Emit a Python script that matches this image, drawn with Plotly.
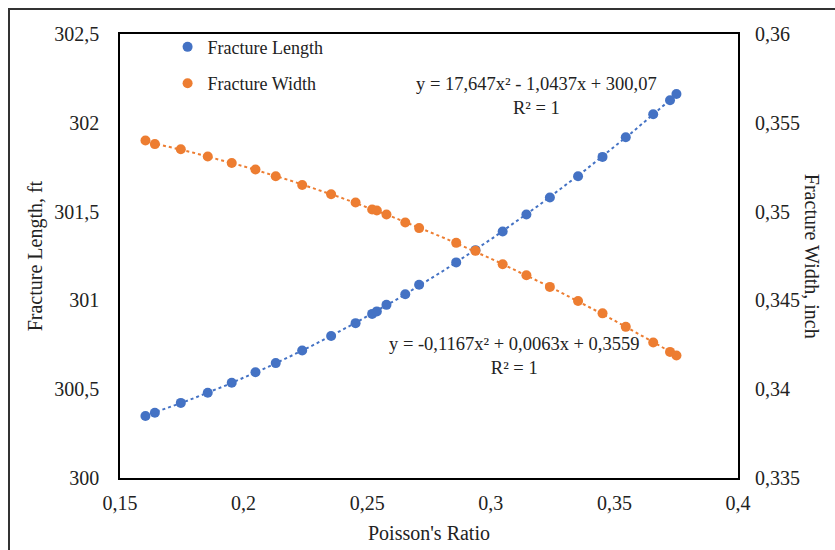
import numpy as np
import plotly.graph_objects as go

# Data
poisson_ratio = [0.1603, 0.1641, 0.1746, 0.1855, 0.1952, 0.2048, 0.2130, 0.2237,
                 0.2354, 0.2453, 0.2520, 0.2539, 0.2578, 0.2654, 0.2710, 0.2860,
                 0.2938, 0.3048, 0.3144, 0.3239, 0.3353, 0.3452, 0.3546, 0.3657,
                 0.3725, 0.3751]
fracture_length = [300.349, 300.367, 300.423, 300.480, 300.536, 300.595, 300.647, 300.718,
                   300.800, 300.872, 300.924, 300.938, 300.975, 301.035, 301.088, 301.214,
                   301.283, 301.388, 301.484, 301.579, 301.699, 301.808, 301.919, 302.048,
                   302.127, 302.162]
fracture_width = [0.35400, 0.35380, 0.35351, 0.35310, 0.35274, 0.35237, 0.35199, 0.35150,
                  0.35098, 0.35051, 0.35012, 0.35006, 0.34984, 0.34939, 0.34907, 0.34824,
                  0.34779, 0.34704, 0.34642, 0.34576, 0.34497, 0.34427, 0.34351, 0.34263,
                  0.34210, 0.34190]

x_ticks = [0.15, 0.2, 0.25, 0.3, 0.35, 0.4]
y_left_ticks = [300, 300.5, 301, 301.5, 302, 302.5]
y_right_ticks = [0.335, 0.34, 0.345, 0.35, 0.355, 0.36]

eq_length = "y = 17,647x² - 1,0437x + 300,07<br>R² = 1"
eq_width = "y = -0,1167x² + 0,0063x + 0,3559<br>R² = 1"

BLUE = "#4472C4"
ORANGE = "#ED7D31"
FONT = "Liberation Serif, Times New Roman, serif"

# Polynomial trendlines (order 2) fitted to the data
xs = np.linspace(min(poisson_ratio), max(poisson_ratio), 200)
pl = np.polyfit(poisson_ratio, fracture_length, 2)
pw = np.polyfit(poisson_ratio, fracture_width, 2)

fig = go.Figure()
fig.add_trace(go.Scatter(x=xs, y=np.polyval(pl, xs), mode="lines",
                         line=dict(color=BLUE, width=2, dash="dot"),
                         showlegend=False, hoverinfo="skip"))
fig.add_trace(go.Scatter(x=xs, y=np.polyval(pw, xs), mode="lines", yaxis="y2",
                         line=dict(color=ORANGE, width=2, dash="dot"),
                         showlegend=False, hoverinfo="skip"))
fig.add_trace(go.Scatter(x=poisson_ratio, y=fracture_length, mode="markers",
                         name="Fracture Length", legendgroup="a",
                         marker=dict(color=BLUE, size=10)))
fig.add_trace(go.Scatter(x=poisson_ratio, y=fracture_width, mode="markers",
                         name="Fracture Width", legendgroup="b", yaxis="y2",
                         marker=dict(color=ORANGE, size=10)))

axis_common = dict(showgrid=False, zeroline=False, ticks="outside", ticklen=0,
                   automargin=False,
                   tickfont=dict(family=FONT, size=20, color="#222"))

fig.update_layout(
    width=835, height=550,
    margin=dict(l=120, r=97, t=34, b=72, autoexpand=False),
    paper_bgcolor="white", plot_bgcolor="white",
    separators=", ",
    font=dict(family=FONT, color="#222"),
    xaxis=dict(range=[0.15, 0.4], tickvals=x_ticks,
               showline=True, linecolor="black", linewidth=1.5, mirror=True,
               ticklabelstandoff=6, **axis_common),
    yaxis=dict(range=[300, 302.5], tickvals=y_left_ticks,
               showline=True, linecolor="black", linewidth=1.5, mirror=True,
               ticklabelstandoff=15, **axis_common),
    yaxis2=dict(range=[0.335, 0.36], tickvals=y_right_ticks, overlaying="y", side="right",
                showline=False, ticklabelstandoff=12, **axis_common),
    legend=dict(x=0.077, y=1.012, xanchor="left", yanchor="top",
                bgcolor="rgba(0,0,0,0)", tracegroupgap=10,
                font=dict(family=FONT, size=18, color="#222"),
                itemwidth=30),
    showlegend=True,
)

ann_font = dict(family=FONT, size=18.5, color="#222")
fig.add_annotation(x=0.3183, y=302.15, xref="x", yref="y", text=eq_length,
                   showarrow=False, font=ann_font, align="center")
fig.add_annotation(x=0.3094, y=300.688, xref="x", yref="y", text=eq_width,
                   showarrow=False, font=ann_font, align="center")

# Axis titles
fig.add_annotation(x=0.5, y=-0.123, xref="paper", yref="paper", text="Poisson's Ratio",
                   showarrow=False, font=dict(family=FONT, size=20, color="#222"),
                   xanchor="center", yanchor="middle")
fig.add_annotation(x=-0.137, y=0.5, xref="paper", yref="paper", text="Fracture Length, ft",
                   showarrow=False, textangle=-90, font=dict(family=FONT, size=20, color="#222"),
                   xanchor="center", yanchor="middle")
fig.add_annotation(x=1.12, y=0.5, xref="paper", yref="paper", text="Fracture Width, inch",
                   showarrow=False, textangle=90, font=dict(family=FONT, size=20, color="#222"),
                   xanchor="center", yanchor="middle")

# Outer chart border
fig.add_shape(type="rect", xref="paper", yref="paper",
              x0=(9 - 120) / 618, x1=(850 - 120) / 618,
              y0=(478 - 570) / 444, y1=(478 - 9) / 444,
              line=dict(color="#333", width=2), fillcolor="rgba(0,0,0,0)", layer="below")

fig.write_html("out.html", config={"displayModeBar": False},
               post_script="document.body.style.margin='0';document.body.style.overflow='hidden';")
